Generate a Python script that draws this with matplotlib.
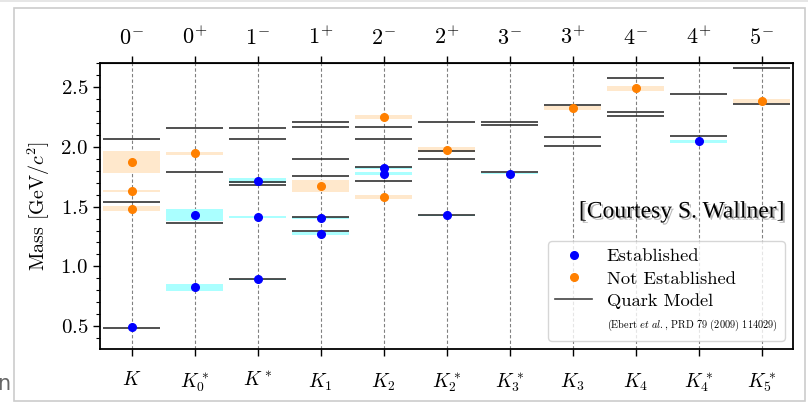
import matplotlib
matplotlib.use("Agg")
import matplotlib.pyplot as plt
import matplotlib.patheffects as pe
from matplotlib.patches import Rectangle
from matplotlib.lines import Line2D
from matplotlib.ticker import MultipleLocator
import numpy as np

plt.rcParams['font.family'] = 'serif'
plt.rcParams['font.serif'] = ['cmr10']
plt.rcParams['mathtext.fontset'] = 'cm'
plt.rcParams['axes.formatter.use_mathtext'] = True
plt.rcParams['axes.unicode_minus'] = False

# ---------------- data ----------------
particles = [r'$K$', r'$K_0^*$', r'$K^*$', r'$K_1$', r'$K_2$', r'$K_2^*$',
             r'$K_3^*$', r'$K_3$', r'$K_4$', r'$K_4^*$', r'$K_5^*$']
jp_labels = [r'$0^{-}$', r'$0^{+}$', r'$1^{-}$', r'$1^{+}$', r'$2^{-}$', r'$2^{+}$',
             r'$3^{-}$', r'$3^{+}$', r'$4^{-}$', r'$4^{+}$', r'$5^{-}$']

# established states: column index, mass, half-width of band
est_col = [0, 1, 1, 2, 2, 2, 3, 3, 4, 4, 5, 6, 9]
est_mass = [0.494, 0.824, 1.430, 0.893, 1.414, 1.718, 1.272, 1.403, 1.773, 1.819, 1.427, 1.776, 2.045]
est_err = [0.003, 0.032, 0.052, 0.003, 0.008, 0.018, 0.012, 0.007, 0.012, 0.008, 0.003, 0.007, 0.010]

# not established states
nest_col = [0, 0, 0, 1, 3, 4, 4, 5, 7, 8, 10]
nest_mass = [1.482, 1.629, 1.874, 1.945, 1.672, 1.580, 2.247, 1.976, 2.324, 2.490, 2.382]
nest_err = [0.020, 0.006, 0.093, 0.015, 0.050, 0.020, 0.017, 0.020, 0.020, 0.020, 0.020]

# quark model (Ebert et al.)
qm_col = [0, 0, 0,
          1, 1, 1,
          2, 2, 2, 2, 2,
          3, 3, 3, 3, 3, 3,
          4, 4, 4, 4,
          5, 5, 5, 5,
          6, 6, 6,
          7, 7, 7,
          8, 8, 8,
          9, 9,
          10, 10]
qm_mass = [0.482, 1.538, 2.065,
           1.362, 1.791, 2.160,
           0.895, 1.679, 1.702, 2.065, 2.155,
           1.292, 1.416, 1.757, 1.897, 2.166, 2.206,
           1.710, 1.828, 2.068, 2.164,
           1.427, 1.897, 1.964, 2.208,
           1.789, 2.186, 2.208,
           2.010, 2.080, 2.351,
           2.256, 2.290, 2.575,
           2.090, 2.440,
           2.360, 2.660]

# ---------------- figure ----------------
fig = plt.figure(figsize=(8.08, 4.04), dpi=100)
ax = fig.add_axes([100 / 808, 1 - 349 / 404, 693 / 808, 286 / 404])

hw = 0.45
xpos = np.arange(len(particles))

for x in xpos:
    ax.axvline(x, color='#808080', lw=0.8, ls=(0, (3, 2)), zorder=0.5)

ax.bar(nest_col, 2 * np.array(nest_err), bottom=np.array(nest_mass) - np.array(nest_err),
       width=2 * hw, color='#ffe8cc', edgecolor='none', zorder=1)
ax.bar(est_col, 2 * np.array(est_err), bottom=np.array(est_mass) - np.array(est_err),
       width=2 * hw, color='#aaffff', edgecolor='none', zorder=1)

ax.hlines(qm_mass, np.array(qm_col) - hw, np.array(qm_col) + hw,
          color='#222222', lw=1.3, alpha=0.85, zorder=2)

ax.plot(est_col, est_mass, 'o', color='#0000ff', ms=5.5, zorder=3)
ax.plot(nest_col, nest_mass, 'o', color='#ff8000', ms=5.5, zorder=3)

ax.set_xlim(-0.5, 10.5)
ax.set_ylim(0.31, 2.70)
ax.set_xticks(xpos)
ax.set_xticklabels(particles, fontsize=14)
ax.yaxis.set_major_locator(MultipleLocator(0.5))
ax.yaxis.set_minor_locator(MultipleLocator(0.1))
ax.tick_params(axis='y', labelsize=15, direction='out', length=5, width=1)
ax.tick_params(axis='y', which='minor', length=3, width=0.8)
ax.tick_params(axis='x', direction='out', length=5, width=1, pad=11)
ax.set_ylabel(r'Mass [GeV$/c^2$]', fontsize=14.5, labelpad=6)
for s in ax.spines.values():
    s.set_linewidth(1.3)

top = ax.secondary_xaxis('top')
top.set_xticks(xpos)
top.set_xticklabels(jp_labels, fontsize=16)
top.tick_params(direction='out', length=5, width=1, pad=6)

handles = [Line2D([], [], ls='none', marker='o', color='#0000ff', ms=5.5),
           Line2D([], [], ls='none', marker='o', color='#ff8000', ms=5.5),
           Line2D([], [], color='#444444', lw=1.2),
           Line2D([], [], ls='none')]
labels = ['Established', 'Not Established', 'Quark Model',
          r'(Ebert $et\ al.$, PRD 79 (2009) 114029)']
leg = ax.legend(handles, labels, loc='lower right', fontsize=13.3, frameon=True,
                labelspacing=0.34, handletextpad=0.78, borderaxespad=0.45,
                bbox_to_anchor=(1.0, 0.0))
leg.get_texts()[3].set_fontsize(7.4)
leg.get_frame().set_edgecolor('#cccccc')
leg.get_frame().set_alpha(0.8)

ax.text(0.988, 0.479, '[Courtesy S. Wallner]', transform=ax.transAxes,
        ha='right', va='center', fontsize=17, family='Liberation Serif', zorder=5,
        path_effects=[pe.withSimplePatchShadow(offset=(1.5, -1.5), shadow_rgbFace='#888888', alpha=0.6)])

# screenshot frame
fig.patches.append(Rectangle((14.5 / 808, 1 - 401 / 404), 790.5 / 808, 393.5 / 404,
                             transform=fig.transFigure, fill=False,
                             edgecolor='#cccccc', lw=1.2, zorder=0))
fig.patches.append(Rectangle((0, 1 - 2 / 404), 1, 2 / 404, transform=fig.transFigure,
                             facecolor='#e6e6e6', edgecolor='none', zorder=0))
fig.text(-0.004, 0.035, 'n', fontsize=15, color='#666666', family='DejaVu Sans')

fig.savefig('out.png', dpi=100)
